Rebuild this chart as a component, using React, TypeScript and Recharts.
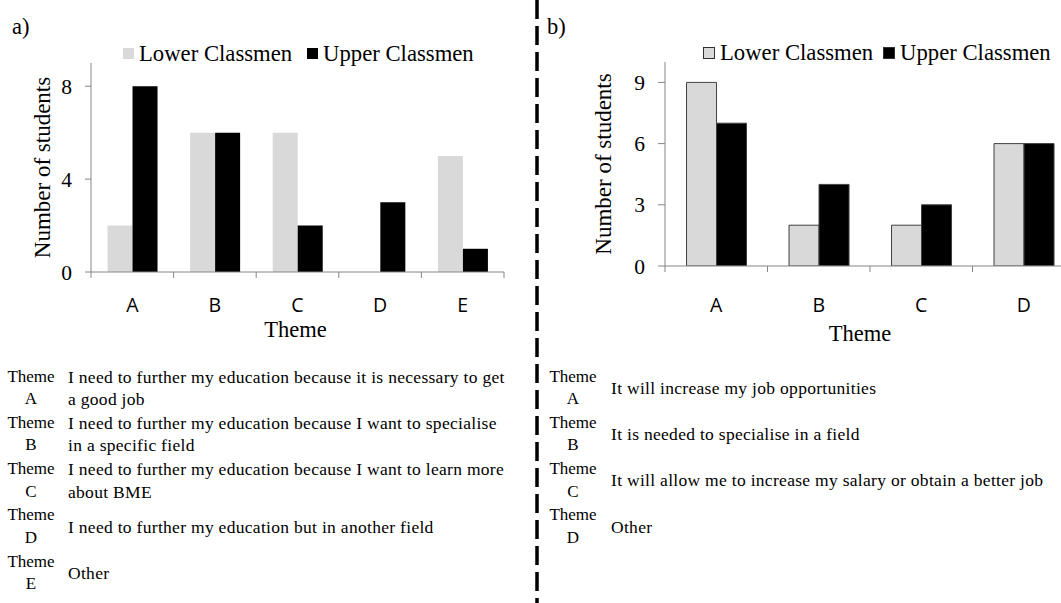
import React from 'react';
import { BarChart, Bar, XAxis, YAxis, Legend } from 'recharts';

// ---------- data ----------
const seriesNames = ['Lower Classmen', 'Upper Classmen'];
const seriesColors = ['#d9d9d9', '#000000'];

const themesA = ['A', 'B', 'C', 'D', 'E'];
const lowerA = [2, 6, 6, 0, 5];
const upperA = [8, 6, 2, 3, 1];
const yTicksA = [0, 4, 8];
const yMaxA = 9;

const themesB = ['A', 'B', 'C', 'D'];
const lowerB = [9, 2, 2, 6];
const upperB = [7, 4, 3, 6];
const yTicksB = [0, 3, 6, 9];
const yMaxB = 10;

const descA: string[][] = [
  ['I need to further my education because it is necessary to get', 'a good job'],
  ['I need to further my education because I want to specialise', 'in a specific field'],
  ['I need to further my education because I want to learn more', 'about BME'],
  ['I need to further my education but in another field'],
  ['Other'],
];
const descB: string[][] = [
  ['It will increase my job opportunities'],
  ['It is needed to specialise in a field'],
  ['It will allow me to increase my salary or obtain a better job'],
  ['Other'],
];

const dataA = themesA.map((t, i) => ({ theme: t, lower: lowerA[i], upper: upperA[i] }));
const dataB = themesB.map((t, i) => ({ theme: t, lower: lowerB[i], upper: upperB[i] }));

// ---------- styles ----------
const SERIF = '"Liberation Serif", "Times New Roman", serif';
const SANS = '"Open Sans", "Noto Sans", sans-serif';
const AXIS = '#868686';

const makeCatTick = (labelDy: number) => (props: any) => {
  const { x, y, payload, index, visibleTicksCount } = props;
  const off = payload && typeof payload.offset === 'number' ? payload.offset : 0;
  const last = index === visibleTicksCount - 1;
  return (
    <g>
      <line x1={x - off} x2={x - off} y1={y} y2={y + 6} stroke={AXIS} strokeWidth={1} />
      {last && <line x1={x + off} x2={x + off} y1={y} y2={y + 6} stroke={AXIS} strokeWidth={1} />}
      <text x={x} y={y + labelDy} textAnchor="middle" dominantBaseline="central" fontFamily={SANS} fontSize={19.5} fill="#000">
        {payload.value}
      </text>
    </g>
  );
};

const makeYLabel = (dx: number) => (p: any) => {
  const vb = p.viewBox || {};
  const cx = vb.x + dx;
  const cy = vb.y + vb.height / 2;
  return (
    <text x={cx} y={cy} transform={`rotate(-90, ${cx}, ${cy})`} textAnchor="middle" dominantBaseline="central" fontFamily={SERIF} fontSize={23} fill="#000">
      Number of students
    </text>
  );
};

const makeXLabel = (dx: number, dy: number) => (p: any) => {
  const vb = p.viewBox || {};
  return (
    <text x={vb.x + vb.width / 2 + dx} y={vb.y + dy} textAnchor="middle" dominantBaseline="central" fontFamily={SERIF} fontSize={22.5} fill="#000">
      Theme
    </text>
  );
};

const makeLegend = (bordered: boolean, sq: number) => (props: any) => {
  const payload = props.payload || [];
  return (
    <div style={{ display: 'flex', alignItems: 'center', fontFamily: SERIF, fontSize: 22.7, lineHeight: '25px', whiteSpace: 'nowrap', color: '#000' }}>
      {payload.map((e: any, i: number) => (
        <span key={i} style={{ display: 'flex', alignItems: 'center', marginRight: i === 0 ? (bordered ? 10 : 15) : 0 }}>
          <span
            style={{
              display: 'inline-block',
              width: sq,
              height: sq,
              boxSizing: 'border-box',
              background: e.color,
              border: bordered ? '1px solid #303030' : 'none',
              marginRight: 5,
            }}
          />
          {e.value}
        </span>
      ))}
    </div>
  );
};

const DescTable = ({ rows, themes, left, gap }: { rows: string[][]; themes: string[]; left: number; gap: number }) => (
  <div style={{ position: 'absolute', left, top: 365, fontFamily: SERIF, fontSize: 17, color: '#000' }}>
    {rows.map((lines, i) => (
      <div key={i} style={{ display: 'flex', alignItems: 'center', height: 46.25 }}>
        <div style={{ width: 48, textAlign: 'center', lineHeight: '22.5px' }}>
          <div>Theme</div>
          <div>{themes[i]}</div>
        </div>
        <div style={{ marginLeft: gap, lineHeight: '22.5px', whiteSpace: 'nowrap', fontSize: 17.5, letterSpacing: 0.3 }}>
          {lines.map((l, j) => (
            <div key={j}>{l}</div>
          ))}
        </div>
      </div>
    ))}
  </div>
);

export default function App() {
  return (
    <div style={{ position: 'absolute', left: 0, top: 0, width: 1061, height: 603, overflow: 'hidden', background: '#fff' }}>
      {/* panel a */}
      <div style={{ position: 'absolute', left: 12, top: 14, fontFamily: SERIF, fontSize: 22.5 }}>a)</div>
      <div style={{ position: 'absolute', left: 0, top: 0 }}>
        <BarChart width={530} height={350} data={dataA} margin={{ top: 63, right: 26, bottom: 0, left: 31 }} barCategoryGap="20%" barGap={0}>
          <YAxis
            width={60}
            domain={[0, yMaxA]}
            ticks={yTicksA}
            allowDataOverflow
            axisLine={{ stroke: AXIS }}
            tickLine={{ stroke: AXIS }}
            tickSize={6}
            tickMargin={13}
            tick={{ fill: '#000', fontFamily: SERIF, fontSize: 21.5 }}
            label={{ content: makeYLabel(11) }}
          />
          <XAxis
            dataKey="theme"
            height={78}
            interval={0}
            axisLine={{ stroke: AXIS }}
            tickLine={false}
            tickSize={0}
            tickMargin={0}
            tick={makeCatTick(32)}
            label={{ content: makeXLabel(-2, 57) }}
          />
          <Legend
            layout="horizontal"
            verticalAlign="middle"
            align="center"
            wrapperStyle={{ top: 41, left: 123, width: 'auto' }}
            content={makeLegend(false, 11)}
          />
          <Bar dataKey="lower" name={seriesNames[0]} fill={seriesColors[0]} isAnimationActive={false} />
          <Bar dataKey="upper" name={seriesNames[1]} fill={seriesColors[1]} isAnimationActive={false} />
        </BarChart>
      </div>

      {/* divider */}
      <svg style={{ position: 'absolute', left: 0, top: 0 }} width={1061} height={603}>
        <line x1={537} x2={537} y1={0} y2={603} stroke="#000" strokeWidth={3.5} strokeDasharray="19 7" />
      </svg>

      {/* panel b */}
      <div style={{ position: 'absolute', left: 547, top: 14, fontFamily: SERIF, fontSize: 22.5 }}>b)</div>
      <div style={{ position: 'absolute', left: 537, top: 0 }}>
        <BarChart width={560} height={350} data={dataB} margin={{ top: 62, right: 22, bottom: 0, left: 68 }} barCategoryGap="21%" barGap={0}>
          <YAxis
            width={60}
            domain={[0, yMaxB]}
            ticks={yTicksB}
            allowDataOverflow
            axisLine={{ stroke: AXIS }}
            tickLine={{ stroke: AXIS }}
            tickSize={7}
            tickMargin={13}
            tick={{ fill: '#000', fontFamily: SERIF, fontSize: 21.5 }}
            label={{ content: makeYLabel(-2) }}
          />
          <XAxis
            dataKey="theme"
            height={84}
            interval={0}
            axisLine={{ stroke: AXIS }}
            tickLine={false}
            tickSize={0}
            tickMargin={0}
            tick={makeCatTick(38)}
            label={{ content: makeXLabel(-10, 67) }}
          />
          <Legend
            layout="horizontal"
            verticalAlign="middle"
            align="center"
            wrapperStyle={{ top: 40, left: 166, width: 'auto' }}
            content={makeLegend(true, 12)}
          />
          <Bar dataKey="lower" name={seriesNames[0]} fill={seriesColors[0]} stroke="#404040" strokeWidth={1} isAnimationActive={false} />
          <Bar dataKey="upper" name={seriesNames[1]} fill={seriesColors[1]} stroke="#404040" strokeWidth={1} isAnimationActive={false} />
        </BarChart>
      </div>

      <DescTable rows={descA} themes={themesA} left={7} gap={13} />
      <DescTable rows={descB} themes={themesB} left={549} gap={14} />
    </div>
  );
}
